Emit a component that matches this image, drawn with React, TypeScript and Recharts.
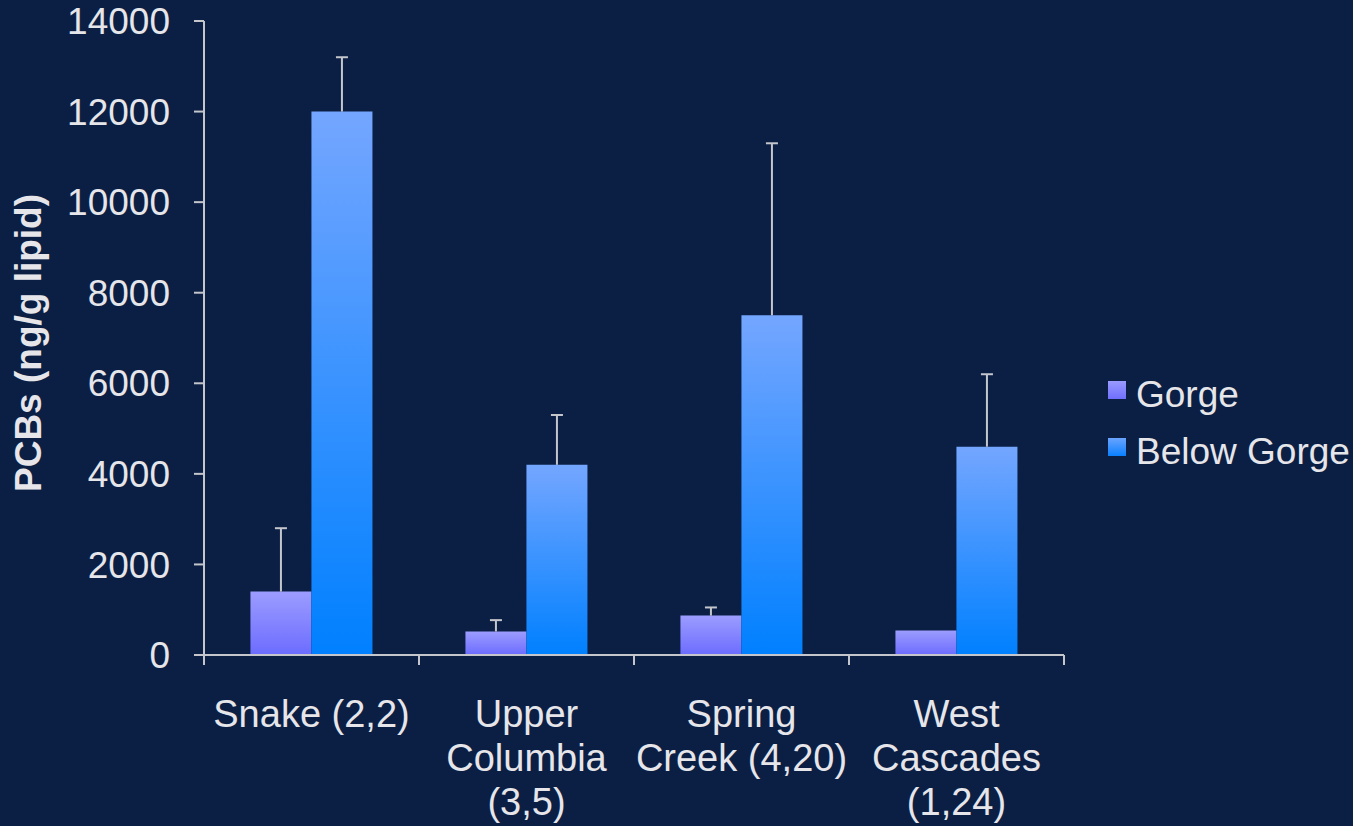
import { BarChart, Bar, XAxis, YAxis, Legend } from 'recharts';

const categories = ['Snake', 'Upper Columbia', 'Spring Creek', 'West Cascades'];
const tickLabels = [
  ['Snake (2,2)'],
  ['Upper', 'Columbia', '(3,5)'],
  ['Spring', 'Creek (4,20)'],
  ['West', 'Cascades', '(1,24)'],
];
const gorge = [1400, 520, 870, 540];
const gorgeErr = [1400, 250, 180, 0];
const belowGorge = [12000, 4200, 7500, 4600];
const belowGorgeErr = [1200, 1100, 3800, 1600];
const yTicks = [0, 2000, 4000, 6000, 8000, 10000, 12000, 14000];

const data = categories.map((name, i) => ({
  name,
  gorge: gorge[i],
  gorgeErr: gorgeErr[i],
  belowGorge: belowGorge[i],
  belowGorgeErr: belowGorgeErr[i],
}));

const bg = '#0b1f45';
const textColor = '#e6e6ea';
const axisColor = '#c4c6cc';
const font = 'Arial, "Liberation Sans", sans-serif';

const W = 1353;
const H = 826;
const legendW = 245;
const margin = { top: 21, right: 289 - legendW, bottom: 0, left: 8 };
const plotW = 860;

function CatTick(props: any) {
  const { x, y, payload, index } = props;
  const half = payload && payload.offset ? payload.offset : plotW / categories.length / 2;
  const lines = tickLabels[index] || [];
  return (
    <g>
      {index === 0 && <line x1={x - half} x2={x - half} y1={y} y2={y + 10} stroke={axisColor} strokeWidth={2} />}
      <line x1={x + half} x2={x + half} y1={y} y2={y + 10} stroke={axisColor} strokeWidth={2} />
      <text x={x} y={y + 72} textAnchor="middle" fill={textColor} fontSize={38} fontFamily={font}>
        {lines.map((l, i) => (
          <tspan key={i} x={x} dy={i === 0 ? 0 : 44}>{l}</tspan>
        ))}
      </text>
    </g>
  );
}

// upper error whisker drawn as a stacked segment on top of the bar
function ErrShape(props: any) {
  const { x, y, width, height } = props;
  if (!height || height <= 0) return null;
  const cx = x + width / 2;
  return (
    <g stroke={axisColor} strokeWidth={2}>
      <line x1={cx} x2={cx} y1={y} y2={y + height} />
      <line x1={cx - 6} x2={cx + 6} y1={y} y2={y} />
    </g>
  );
}

function YLabel(props: any) {
  const { viewBox } = props;
  const cx = 28;
  const cy = viewBox.y + viewBox.height / 2 + 5;
  return (
    <text x={cx} y={cy} transform={`rotate(-90 ${cx} ${cy})`} textAnchor="middle" dominantBaseline="central"
      fill={textColor} fontSize={37} fontWeight="bold" fontFamily={font}>
      PCBs (ng/g lipid)
    </text>
  );
}

const legendItems = [
  { label: 'Gorge', top: '#9a9aff', bottom: '#6f6fff' },
  { label: 'Below Gorge', top: '#6aa4ff', bottom: '#0a80ff' },
];

function LegendBox() {
  return (
    <div style={{ fontFamily: font, fontSize: 37, color: textColor }}>
      {legendItems.map((it, i) => (
        <div key={it.label} style={{ display: 'flex', alignItems: 'center', height: 57 }}>
          <svg width={18} height={18} style={{ marginRight: 10, marginTop: -10 }}>
            <defs>
              <linearGradient id={`legGrad${i}`} x1="0" y1="0" x2="0" y2="1">
                <stop offset="0%" stopColor={it.top} />
                <stop offset="100%" stopColor={it.bottom} />
              </linearGradient>
            </defs>
            <rect width={18} height={18} fill={`url(#legGrad${i})`} />
          </svg>
          <span style={{ whiteSpace: 'nowrap' }}>{it.label}</span>
        </div>
      ))}
    </div>
  );
}

export default function App() {
  return (
    <div style={{ position: 'fixed', left: 0, top: 0, width: W, height: H, background: bg, overflow: 'hidden' }}>
      <BarChart width={W} height={H} data={data} margin={margin} barCategoryGap="21.6%" barGap={0}>
        <defs>
          <linearGradient id="gGorge" x1="0" y1="0" x2="0" y2="1">
            <stop offset="0%" stopColor="#9c9cff" />
            <stop offset="100%" stopColor="#6c6cff" />
          </linearGradient>
          <linearGradient id="gBelow" x1="0" y1="0" x2="0" y2="1">
            <stop offset="0%" stopColor="#74a6ff" />
            <stop offset="100%" stopColor="#0080ff" />
          </linearGradient>
        </defs>
        <XAxis
          dataKey="name"
          interval={0}
          height={171}
          tickSize={0}
          tickMargin={0}
          tickLine={false}
          axisLine={{ stroke: axisColor, strokeWidth: 2 }}
          tick={<CatTick />}
        />
        <YAxis
          width={196}
          domain={[0, 14000]}
          ticks={yTicks}
          interval={0}
          allowDataOverflow
          tickSize={10}
          tickMargin={24}
          axisLine={{ stroke: axisColor, strokeWidth: 2 }}
          tickLine={{ stroke: axisColor, strokeWidth: 2 }}
          tick={{ fill: textColor, fontSize: 37, fontFamily: font }}
          label={{ content: <YLabel /> }}
        />
        <Legend
          layout="horizontal"
          verticalAlign="middle"
          align="right"
          content={<LegendBox />}
          wrapperStyle={{ left: 1108, top: 366, width: legendW, right: 'auto', bottom: 'auto' }}
        />
        <Bar dataKey="gorge" name="Gorge" stackId="a" fill="url(#gGorge)" isAnimationActive={false} />
        <Bar dataKey="gorgeErr" stackId="a" fill="none" shape={<ErrShape />} legendType="none" isAnimationActive={false} />
        <Bar dataKey="belowGorge" name="Below Gorge" stackId="b" fill="url(#gBelow)" isAnimationActive={false} />
        <Bar dataKey="belowGorgeErr" stackId="b" fill="none" shape={<ErrShape />} legendType="none" isAnimationActive={false} />
      </BarChart>
    </div>
  );
}
